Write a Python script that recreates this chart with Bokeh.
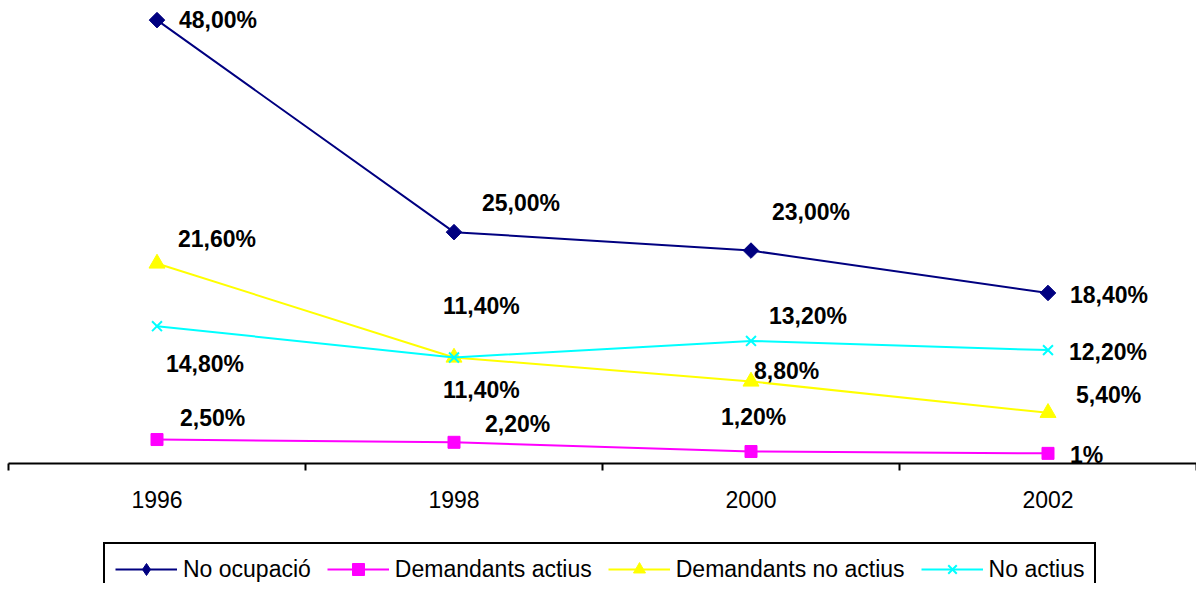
import math
from bokeh.plotting import figure
from bokeh.layouts import column
from bokeh.models import ColumnDataSource, FixedTicker, Legend, LegendItem, Range1d
from bokeh.core.properties import value
from bokeh.embed import file_html
from bokeh.resources import INLINE

years = ["1996", "1998", "2000", "2002"]
no_ocupacio = [48.0, 25.0, 23.0, 18.4]
dem_actius = [2.5, 2.2, 1.2, 1.0]
dem_no_actius = [21.6, 11.4, 8.8, 5.4]
no_actius = [14.8, 11.4, 13.2, 12.2]

lbl_no_ocupacio = ["48,00%", "25,00%", "23,00%", "18,40%"]
lbl_dem_actius = ["2,50%", "2,20%", "1,20%", "1%"]
lbl_dem_no_actius = ["21,60%", "11,40%", "8,80%", "5,40%"]
lbl_no_actius = ["14,80%", "11,40%", "13,20%", "12,20%"]

# label offsets in screen pixels (left edge of text, vertical middle)
off_no_ocupacio = ([22, 28, 21, 22], [0, -29, -39, 2])
off_dem_actius = ([23, 31, -30, 22], [-22, -18, -35, 2])
off_dem_no_actius = ([21, -11, 3, 28], [-24, 33, -10, -18])
off_no_actius = ([9, -11, 18, 21], [38, -51, -25, 2])

xs = list(range(len(years)))

p = figure(width=1196, height=530, output_backend="svg", toolbar_location=None,
           x_range=Range1d(-0.5, 3.5), y_range=Range1d(-0.1, 49.26),
           y_axis_location=None, min_border_left=8, min_border_right=0,
           min_border_top=8, min_border_bottom=67)
p.outline_line_color = None
p.xgrid.visible = False
p.ygrid.visible = False
p.background_fill_color = "white"

# legend strip (its ranges are far from the data so only the legend shows)
lg = figure(width=1196, height=53, output_backend="svg", toolbar_location=None,
            x_range=Range1d(100, 101), y_range=Range1d(100, 101),
            x_axis_location=None, y_axis_location=None,
            min_border_left=0, min_border_right=0, min_border_top=0, min_border_bottom=0)
lg.outline_line_color = None
lg.xgrid.visible = False
lg.ygrid.visible = False

series = [
    ("No ocupació", no_ocupacio, lbl_no_ocupacio, off_no_ocupacio, "#000080",
     dict(marker="square", size=11, angle=math.pi / 4)),
    ("Demandants actius", dem_actius, lbl_dem_actius, off_dem_actius, "#FF00FF",
     dict(marker="square", size=12)),
    ("Demandants no actius", dem_no_actius, lbl_dem_no_actius, off_dem_no_actius, "#FFFF00",
     dict(marker="triangle", size=16)),
    ("No actius", no_actius, lbl_no_actius, off_no_actius, "#00FFFF",
     dict(marker="x", size=14)),
]

items = []
for name, vals, lbls, offs, color, mk in series:
    src = ColumnDataSource(dict(x=xs, y=vals, t=lbls, dx=offs[0], dy=offs[1]))
    lw = 2 if mk["marker"] == "x" else 1
    p.line("x", "y", source=src, line_color=color, line_width=2)
    p.scatter("x", "y", source=src, fill_color=color, line_color=color,
              line_width=lw, **mk)
    p.text("x", "y", text="t", source=src, x_offset="dx", y_offset="dy",
           text_font=value("Liberation Sans"), text_font_style="bold",
           text_font_size="23px", text_align="left", text_baseline="middle",
           text_color="black")
    lmk = "diamond" if mk.get("angle") else mk["marker"]
    ln2 = lg.line("x", "y", source=src, line_color=color, line_width=2)
    sc2 = lg.scatter("x", "y", source=src, fill_color=color, line_color=color,
                     line_width=lw, marker=lmk)
    items.append(LegendItem(label=name, renderers=[ln2, sc2]))

ax = p.xaxis[0]
ax.ticker = FixedTicker(ticks=xs, minor_ticks=[-0.5, 0.5, 1.5, 2.5, 3.5])
ax.major_label_overrides = {i: y for i, y in enumerate(years)}
ax.major_tick_out = 0
ax.major_tick_in = 0
ax.minor_tick_out = 7
ax.minor_tick_in = 0
ax.minor_tick_line_color = "black"
ax.minor_tick_line_width = 2
ax.axis_line_color = "black"
ax.axis_line_width = 2
ax.major_label_standoff = 20
ax.major_label_text_font = "Liberation Sans"
ax.major_label_text_font_size = "23px"
ax.major_label_text_color = "black"

legend = Legend(items=items, orientation="horizontal", location=(95, -13),
                glyph_width=62, glyph_height=30, label_standoff=6, spacing=16,
                padding=10, margin=0, border_line_color="black", border_line_width=2,
                border_line_alpha=1.0,
                label_text_font="Liberation Sans", label_text_font_size="23px",
                label_text_color="black", background_fill_color="white",
                background_fill_alpha=1.0)
lg.add_layout(legend, "center")

layout = column(p, lg, spacing=0)
open("out.html", "w").write(file_html(layout, INLINE))
